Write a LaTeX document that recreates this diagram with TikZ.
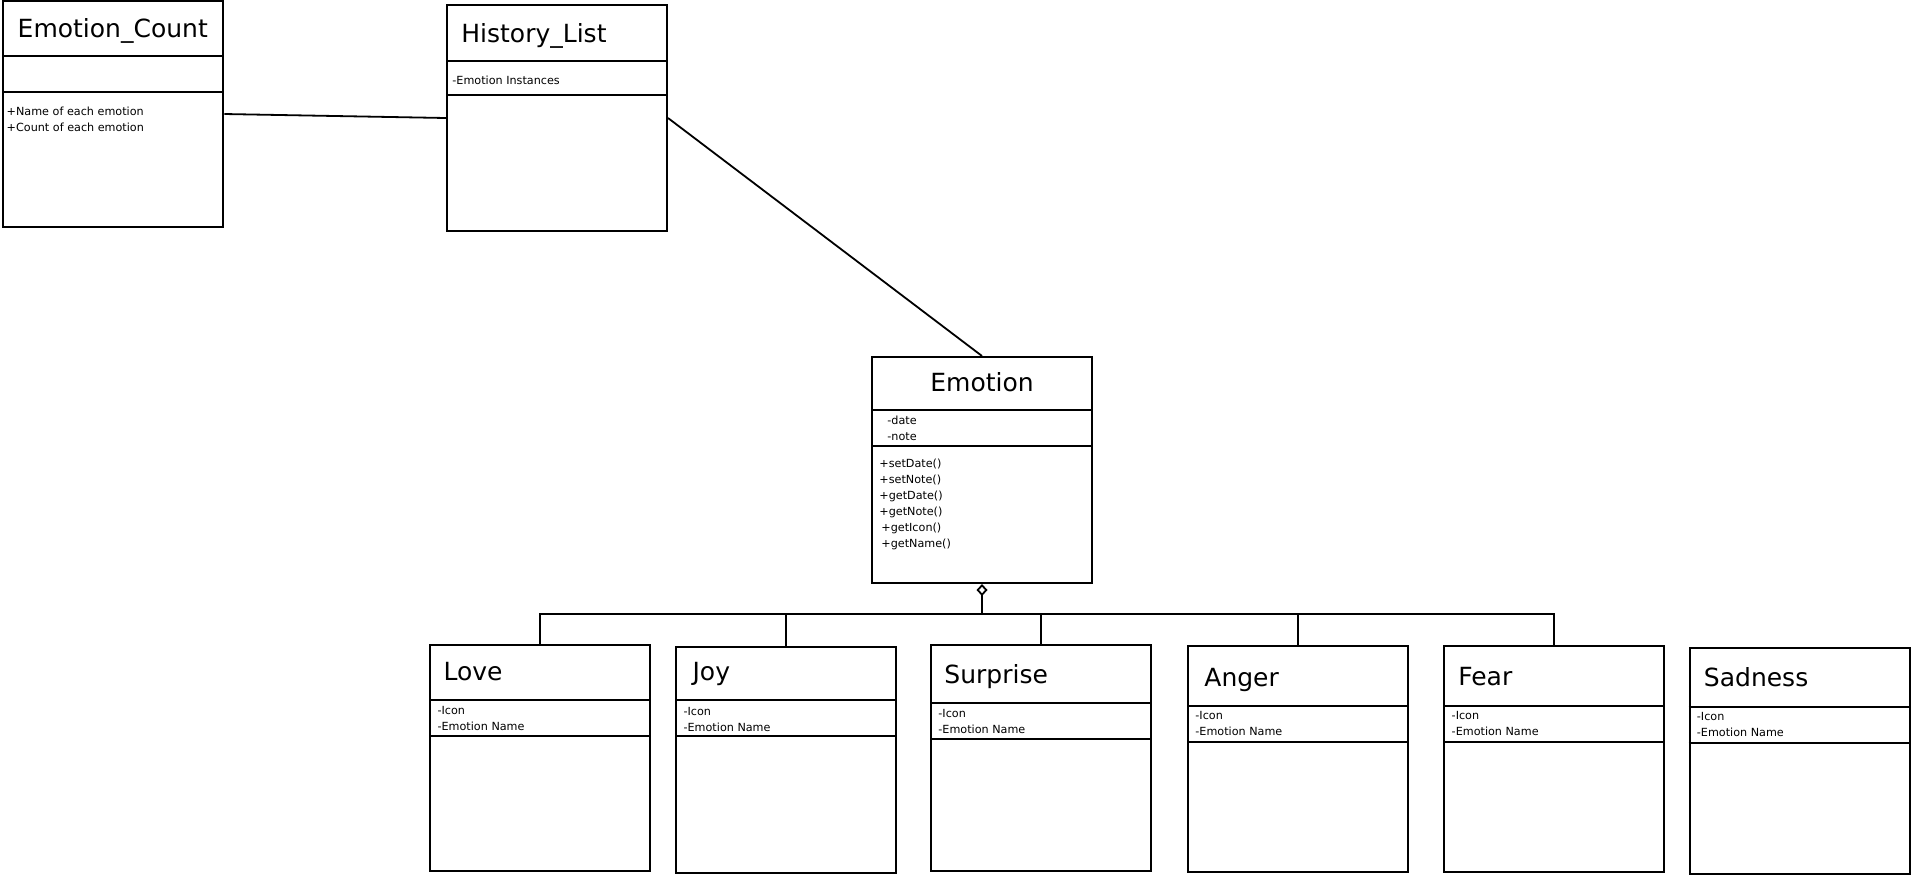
\documentclass[tikz,border=0pt]{standalone}
\usepackage{fontspec}
\setmainfont{DejaVu Sans}
\usetikzlibrary{positioning,calc,arrows.meta}

\tikzset{
  classbox/.style={draw, line width=1pt, minimum width=110pt, minimum height=113pt, inner sep=0pt},
  classname/.style={anchor=base west, inner sep=0pt, font=\fontsize{12.5}{14}\selectfont},
  members/.style={anchor=base west, inner sep=0pt, align=left, font=\fontsize{5.6}{8}\selectfont},
  divider/.style={line width=1pt},
  link/.style={line width=0.9pt}
}

\begin{document}
\begin{tikzpicture}[x=0.5pt,y=-0.5pt]
    \useasboundingbox (0,0) rectangle (1914,875);

    % Class boxes
    \node[classbox] (count) at (113.3,114) {};
    \node[classbox] (hist) at (557,118) {};
    \node[classbox] (emo) at (982,470) {};
    \node[classbox] (love) at (540.2,757.8) {};
    \node[classbox] (joy) at (786.2,760) {};
    \node[classbox] (surp) at (1041,757.8) {};
    \node[classbox] (anger) at (1298,758.8) {};
    \node[classbox] (fear) at (1554.3,758.7) {};
    \node[classbox] (sad) at (1799.5,760.7) {};

    % Compartment lines
    \draw[divider] ($(count.north west)+(0,56)$) -- ++(220,0);
    \draw[divider] ($(count.north west)+(0,91.5)$) -- ++(220,0);
    \draw[divider] ($(hist.north west)+(0,57.4)$) -- ++(220,0);
    \draw[divider] ($(hist.north west)+(0,91)$) -- ++(220,0);
    \draw[divider] ($(emo.north west)+(0,54)$) -- ++(220,0);
    \draw[divider] ($(emo.north west)+(0,90)$) -- ++(220,0);
    \draw[divider] ($(love.north west)+(0,56)$) -- ++(220,0);
    \draw[divider] ($(love.north west)+(0,92)$) -- ++(220,0);
    \draw[divider] ($(joy.north west)+(0,54)$) -- ++(220,0);
    \draw[divider] ($(joy.north west)+(0,90)$) -- ++(220,0);
    \draw[divider] ($(surp.north west)+(0,59)$) -- ++(220,0);
    \draw[divider] ($(surp.north west)+(0,95.5)$) -- ++(220,0);
    \draw[divider] ($(anger.north west)+(0,61.5)$) -- ++(220,0);
    \draw[divider] ($(anger.north west)+(0,97.5)$) -- ++(220,0);
    \draw[divider] ($(fear.north west)+(0,61)$) -- ++(220,0);
    \draw[divider] ($(fear.north west)+(0,97)$) -- ++(220,0);
    \draw[divider] ($(sad.north west)+(0,60.3)$) -- ++(220,0);
    \draw[divider] ($(sad.north west)+(0,96.3)$) -- ++(220,0);

    % Class names
    \node[classname] (countname) at ($(count.north west)+(15,37)$) {Emotion\_Count};
    \node[classname] (histname) at ($(hist.north west)+(15,38.4)$) {History\_List};
    \node[classname, anchor=base] (emoname) at ($(emo.north)+(0,35)$) {Emotion};
    \node[classname] (lovename) at ($(love.north west)+(14,37)$) {Love};
    \node[classname] (joyname) at ($(joy.north west)+(17,34)$) {Joy};
    \node[classname] (surpname) at ($(surp.north west)+(14,40)$) {Surprise};
    \node[classname] (angername) at ($(anger.north west)+(17,41.5)$) {Anger};
    \node[classname] (fearname) at ($(fear.north west)+(14.6,41)$) {Fear};
    \node[classname] (sadname) at ($(sad.north west)+(15,39.6)$) {Sadness};

    % Attributes and operations (base = last line)
    \node[members] (countops) at ($(count.north west)+(4,131.5)$) {+Name of each emotion\\+Count of each emotion};
    \node[members] (histattr) at ($(hist.north west)+(6,80.8)$) {-Emotion Instances};
    \node[members] (emoattr) at ($(emo.north west)+(16,84.5)$) {-date\\-note};
    \node[members] (emoops) at ($(emo.north west)+(8,191)$) {+setDate()\\+setNote()\\+getDate()\\+getNote()\\\hspace{1pt}+getIcon()\\\hspace{1pt}+getName()};
    \node[members] (loveattr) at ($(love.north west)+(8,87)$) {-Icon\\-Emotion Name};
    \node[members] (joyattr) at ($(joy.north west)+(8,85)$) {-Icon\\-Emotion Name};
    \node[members] (surpattr) at ($(surp.north west)+(8,89.5)$) {-Icon\\-Emotion Name};
    \node[members] (angerattr) at ($(anger.north west)+(8,91)$) {-Icon\\-Emotion Name};
    \node[members] (fearattr) at ($(fear.north west)+(8,90.3)$) {-Icon\\-Emotion Name};
    \node[members] (sadattr) at ($(sad.north west)+(8,90)$) {-Icon\\-Emotion Name};

    % Associations
    \draw[link] (count.east) -- (hist.west);
    \draw[link] (hist.east) -- (emo.north);

    % Aggregation tree
    \coordinate (bus) at (982,614);
    \draw[link, {Diamond[open,length=6pt,width=5.5pt]}-] (emo.south) -- (bus);
    \draw[link] (love.north) |- (bus) -| (fear.north);
    \draw[link] (joy.north) -- (joy.north |- bus);
    \draw[link] (surp.north) -- (surp.north |- bus);
    \draw[link] (anger.north) -- (anger.north |- bus);
\end{tikzpicture}
\end{document}
